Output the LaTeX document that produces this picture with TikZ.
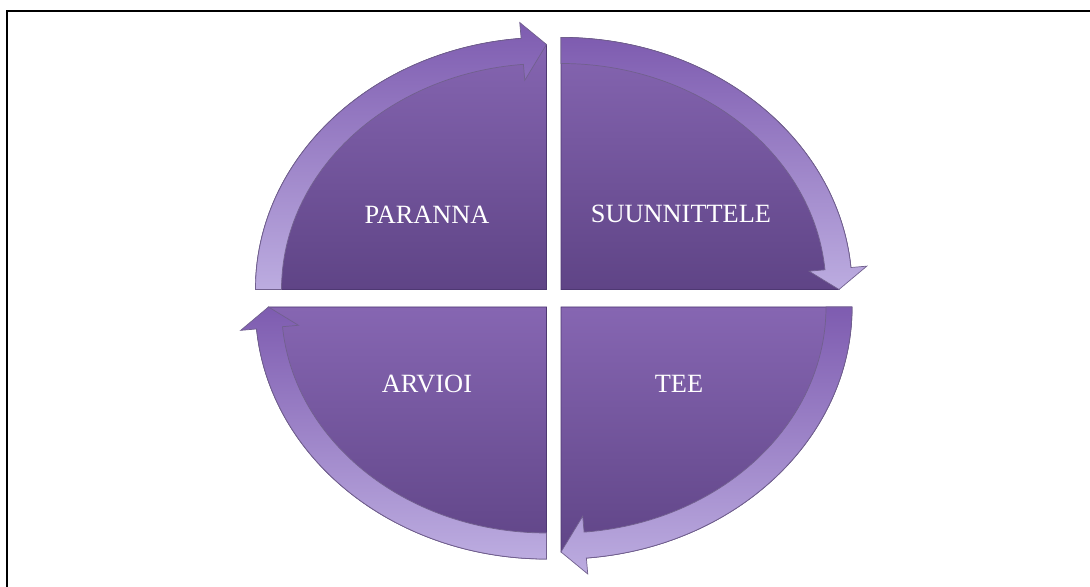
\documentclass[tikz,border=0pt]{standalone}
\usepackage{fontspec}
\setmainfont{Liberation Serif}
\usetikzlibrary{calc}
\definecolor{plumtop}{HTML}{8666B2}
\definecolor{plumbot}{HTML}{5F4486}
\definecolor{plumedge}{HTML}{4E3872}
\definecolor{banddark}{HTML}{7E5CB0}
\definecolor{bandlight}{HTML}{BCACE0}

\begin{document}
\begin{tikzpicture}[x=0.02cm, y=0.02cm,
  body/.style={top color=plumtop, bottom color=plumbot, draw=plumedge, line width=0.5pt},
  band/.style={top color=banddark, bottom color=bandlight, draw=plumedge!80, line width=0.4pt},
  lbl/.style={font=\fontsize{15}{18}\selectfont, text=white, anchor=base}
]
  \useasboundingbox (0,0) rectangle (1090,587);
  \draw[line width=1.2pt] (7,0) -- (7,576) -- (1090,576);

  % corners of the four quarters
  \coordinate (tl) at (546.5,297.5);
  \coordinate (tr) at (561,297.5);
  \coordinate (br) at (561,280);
  \coordinate (bl) at (546.5,280);

  % each quarter: body, then its curved arrow (clockwise)
  \foreach \c/\a in {tl/180, tr/90, br/0, bl/-90}{
    \begin{scope}[shift={(\c)}]
      \path[body] (0,0) -- (\a:291 and 252)
        arc[start angle=\a, end angle=\a-85, x radius=291, y radius=252]
        -- (\a-90:278 and 245) -- cycle;
      \path[band] (\a:291 and 252)
        arc[start angle=\a, end angle=\a-85, x radius=291, y radius=252]
        -- (\a-85:307 and 268) -- (\a-90:278 and 245) -- (\a-85:249 and 210)
        -- (\a-85:265 and 226)
        arc[start angle=\a-85, end angle=\a, x radius=265, y radius=226] -- cycle;
    \end{scope}
  }

  \node[lbl] (paranna) at (427,363) {PARANNA};
  \node[lbl] (suunnittele) at (681,364) {SUUNNITTELE};
  \node[lbl] (arvioi) at (427,194) {ARVIOI};
  \node[lbl] (tee) at (679,194) {TEE};
\end{tikzpicture}
\end{document}
